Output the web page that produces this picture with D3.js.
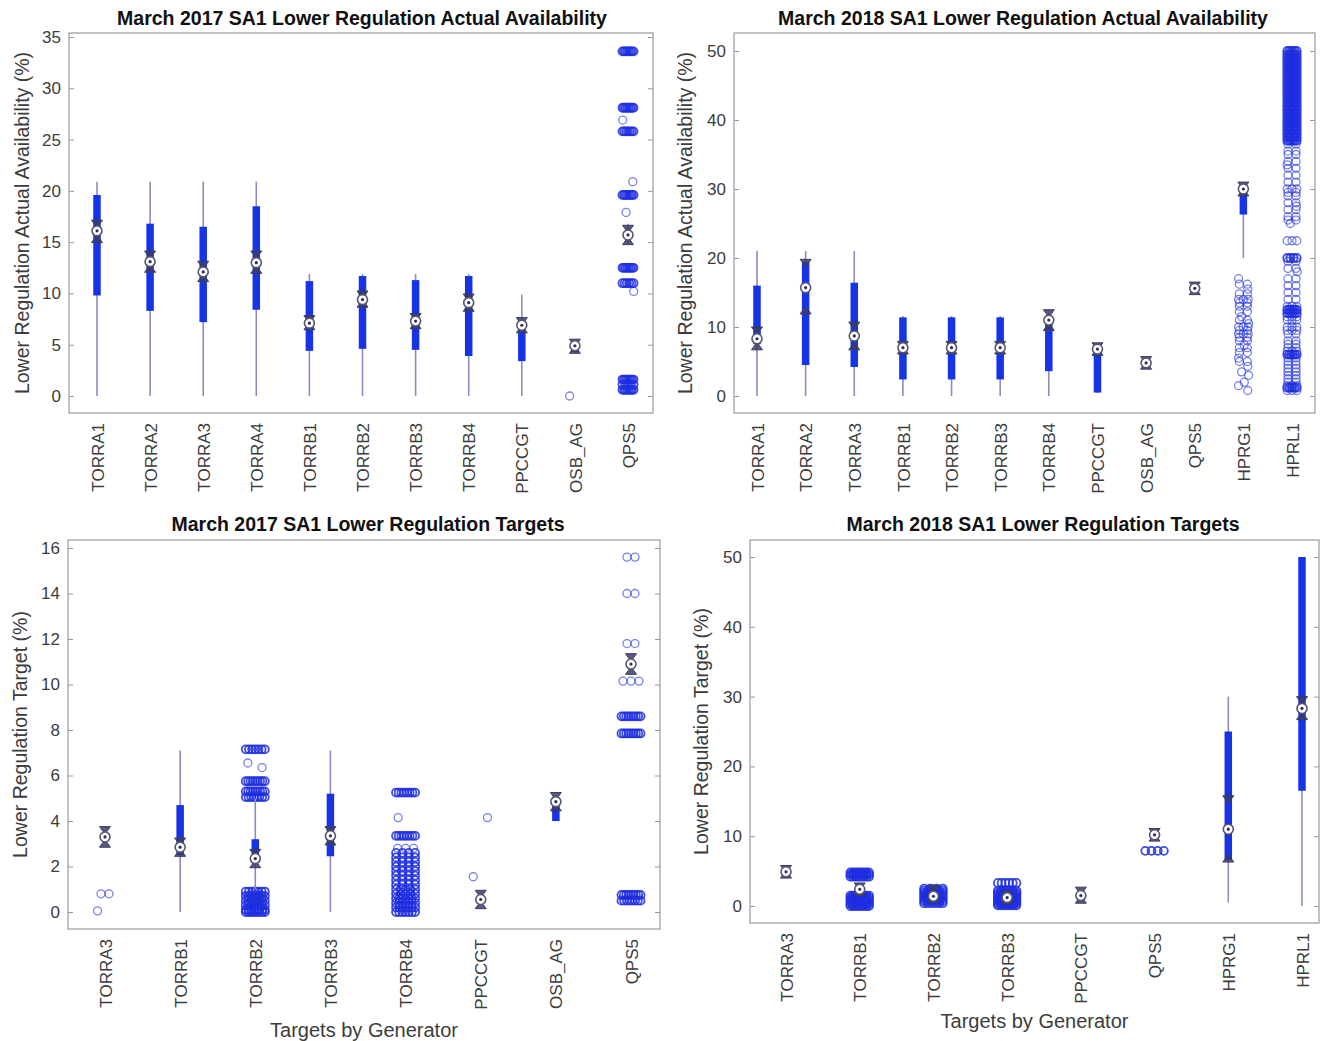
<!DOCTYPE html>
<html><head><meta charset="utf-8">
<script src="https://cdn.jsdelivr.net/npm/d3@7/dist/d3.min.js"></script>
<style>
body{margin:0;background:#fff;}
text{font-family:"Liberation Sans",Arial,Helvetica,sans-serif;}
</style></head>
<body><svg id="c" width="1325" height="1041"></svg>
<script>
// ---------------- DATA ----------------
const cats17Avail = ["TORRA1","TORRA2","TORRA3","TORRA4","TORRB1","TORRB2","TORRB3","TORRB4","PPCCGT","OSB_AG","QPS5"];
const cats18Avail = ["TORRA1","TORRA2","TORRA3","TORRB1","TORRB2","TORRB3","TORRB4","PPCCGT","OSB_AG","QPS5","HPRG1","HPRL1"];
const cats17Target = ["TORRA3","TORRB1","TORRB2","TORRB3","TORRB4","PPCCGT","OSB_AG","QPS5"];
const cats18Target = ["TORRA3","TORRB1","TORRB2","TORRB3","PPCCGT","QPS5","HPRG1","HPRL1"];

const ticks17Avail = [0,5,10,15,20,25,30,35];
const ticks18Avail = [0,10,20,30,40,50];
const ticks17Target = [0,2,4,6,8,10,12,14,16];
const ticks18Target = [0,10,20,30,40,50];

// box stats: [whiskerLo, q1, median, q3, whiskerHi, notchLo, notchHi]
const stats17Avail = [
  [0, 9.8, 16.1, 19.6, 20.9, 15.3, 16.8],
  [0, 8.3, 13.1, 16.8, 20.9, 12.4, 13.8],
  [0, 7.2, 12.1, 16.5, 20.9, 11.5, 12.8],
  [0, 8.4, 13.0, 18.5, 20.9, 12.3, 13.8],
  [0, 4.4, 7.1, 11.2, 11.9, 6.8, 7.5],
  [0, 4.6, 9.4, 11.7, 11.9, 9.0, 9.9],
  [0, 4.5, 7.3, 11.3, 11.9, 6.9, 7.7],
  [0, 3.9, 9.1, 11.7, 11.9, 8.6, 9.6],
  [0, 3.4, 6.9, 7.2, 9.9, 6.5, 7.3],
  [4.3, 4.3, 4.9, 5.0, 5.0, 4.5, 5.2],
  [14.8, 15.5, 15.7, 15.9, 16.8, 15.1, 16.3]
];
const stats18Avail = [
  [0, 7.5, 8.3, 16.0, 21.0, 7.2, 9.5],
  [0, 4.5, 15.7, 19.4, 21.0, 12.4, 19.3],
  [0, 4.2, 8.7, 16.4, 21.0, 7.2, 10.2],
  [0, 2.4, 7.0, 11.4, 11.6, 6.6, 7.4],
  [0, 2.4, 7.0, 11.4, 11.6, 6.6, 7.4],
  [0, 2.4, 7.0, 11.4, 11.6, 6.6, 7.4],
  [0, 3.6, 11.0, 11.2, 12.0, 10.0, 12.0],
  [0.4, 0.5, 6.8, 6.9, 7.0, 6.4, 7.2],
  [4.8, 4.8, 4.8, 4.8, 4.8, 4.4, 5.2],
  [15.6, 15.6, 15.6, 15.6, 15.6, 15.2, 16.0],
  [20.0, 26.3, 30.0, 30.2, 30.3, 29.5, 30.5],
  null
];
const stats17Target = [
  [3.3, 3.3, 3.3, 3.3, 3.3, 3.0, 3.6],
  [0, 2.5, 2.85, 4.7, 7.1, 2.6, 3.1],
  [1.0, 2.3, 2.35, 3.2, 5.0, 2.1, 2.6],
  [0, 2.45, 3.35, 5.2, 7.1, 3.1, 3.6],
  null,
  [0.55, 0.55, 0.55, 0.55, 0.55, 0.3, 0.8],
  [4.0, 4.0, 4.85, 5.0, 5.0, 4.6, 5.1],
  [10.9, 10.9, 10.9, 10.9, 10.9, 10.6, 11.2]
];
const stats18Target = [
  [4.9, 4.9, 4.9, 4.9, 4.9, 4.5, 5.3],
  [2.4, 2.4, 2.4, 2.4, 2.4, 2.0, 2.8],
  [1.4, 1.4, 1.4, 1.4, 1.4, 1.0, 2.5],
  [1.2, 1.2, 1.2, 1.2, 1.2, 0.8, 1.6],
  [1.5, 1.5, 1.5, 1.5, 1.5, 0.9, 2.2],
  [10.2, 10.2, 10.2, 10.2, 10.2, 9.8, 10.6],
  [0.5, 6.6, 11.0, 25.0, 30.0, 6.8, 15.3],
  [0, 16.5, 28.3, 50.0, 50.0, 27.2, 29.5]
];

// outliers per category: [value, count]
const out17Avail = [
  [],[],[],[],[],[],[],[],[],
  [[0,1]],
  [[33.6,8],[28.1,8],[26.9,1],[25.8,7],[20.9,1],[19.6,8],[17.9,1],[12.5,8],[11.0,6],[10.2,1],[1.6,8],[1.1,5],[0.6,8]]
];
const out18Avail = [
  [],[],[],[],[],[],[],[],[],[],
  [[17.0,1],[16.2,2],[15.5,1],[14.8,2],[14.0,3],[13.5,2],[13.0,2],[12.2,2],[11.5,1],[11.0,2],[10.5,1],[10.0,3],[9.5,2],[9.0,3],[8.5,2],[8.0,2],[7.4,1],[7.0,2],[6.3,2],[5.5,1],[5.0,2],[4.3,1],[3.5,1],[3.0,1],[2.0,1],[1.5,1],[0.8,1]],
  [[50,5],[49.5,6],[49,6],[48.5,6],[48,6],[47.5,6],[47,6],[46.5,6],[46,6],[45.5,6],[45,6],[44.5,6],[44,6],[43.5,6],[43,6],[42.5,6],[42,6],[41.5,6],[41,6],[40.5,6],[40,6],[39.5,6],[39,6],[38.5,6],[38,6],[37.5,6],[37,6],
   [36.5,2],[35.5,2],[35,2],[34,2],[33.5,1],[33,2],[32,2],[31,2],[30,3],[29.5,2],[29,2],[28,2],[27.5,1],[27,2],[26,2],[25.5,2],[25,1],[22.5,3],[20,4],[19.5,2],[18.5,2],[18,1],[17,2],[16,2],[15,2],[14,2],[13,3],[12.5,6],[12,5],[11.5,3],[11,3],[10,3],[9.5,3],[9,2],[8,2],[7.5,2],[7,2],[6.5,3],[6,6],[5.5,2],[5,2],[4.5,2],[4,2],[3.5,2],[3,2],[2.5,2],[2,2],[1.5,3],[1.2,5],[0.8,3]]
];
const out17Target = [
  [[0.8,2],[0.05,1]],
  [],
  [[7.15,7],[6.55,1],[6.35,1],[5.75,9],[5.3,9],[5.05,8],[0.9,7],[0.7,8],[0.5,8],[0.3,8],[0.1,8],[0,8]],
  [],
  [[5.25,8],[4.15,1],[3.35,8],[2.8,3],[2.6,4],[2.4,4],[2.2,4],[2.0,4],[1.8,4],[1.6,4],[1.4,4],[1.2,4],[1.0,5],[0.8,5],[0.6,7],[0.4,7],[0.2,7],[0,7]],
  [[1.55,1],[4.15,1]],
  [],
  [[15.6,2],[14.0,2],[11.8,2],[10.15,3],[8.6,9],[7.85,9],[0.75,9],[0.5,8]]
];
const out18Target = [
  [],
  [[4.8,8],[4.5,8],[4.2,8],[1.5,8],[1.2,8],[0.9,9],[0.6,9],[0.3,9],[0,9]],
  [[2.5,4],[2.2,6],[1.9,7],[1.6,7],[1.3,8],[1.0,8],[0.7,7],[0.4,6]],
  [[3.3,6],[2.2,6],[1.9,7],[1.6,8],[1.3,8],[1.0,8],[0.7,8],[0.4,8],[0.1,8]],
  [],
  [[7.9,4]],
  [],
  []
];

const titles = [
  "March 2017 SA1 Lower Regulation Actual Availability",
  "March 2018 SA1 Lower Regulation Actual Availability",
  "March 2017 SA1 Lower Regulation Targets",
  "March 2018 SA1 Lower Regulation Targets"
];
const yLabels = [
  "Lower Regulation Actual Availability (%)",
  "Lower Regulation Actual Availability (%)",
  "Lower Regulation Target (%)",
  "Lower Regulation Target (%)"
];
const xLabel = "Targets by Generator";

// ---------------- LAYOUT ----------------
const panels = [
  {cats:cats17Avail, stats:stats17Avail, outs:out17Avail, ticks:ticks17Avail, title:titles[0], ylab:yLabels[0], xlab:null,
   L:69, R:653, T:33, B:413, x1:97, xn:628, y0:396, yTop:35, yTopPx:37, titleX:362, titleY:25, ylabX:29, xlabY:null},
  {cats:cats18Avail, stats:stats18Avail, outs:out18Avail, ticks:ticks18Avail, title:titles[1], ylab:yLabels[1], xlab:null,
   L:734, R:1315, T:33, B:413, x1:757, xn:1292, y0:396, yTop:50, yTopPx:51, titleX:1023, titleY:25, ylabX:692, xlabY:null},
  {cats:cats17Target, stats:stats17Target, outs:out17Target, ticks:ticks17Target, title:titles[2], ylab:yLabels[2], xlab:xLabel,
   L:68, R:660, T:540, B:929, x1:105, xn:631, y0:912, yTop:16, yTopPx:548, titleX:368, titleY:531, ylabX:27, xlabY:1037},
  {cats:cats18Target, stats:stats18Target, outs:out18Target, ticks:ticks18Target, title:titles[3], ylab:yLabels[3], xlab:xLabel,
   L:750, R:1319, T:540, B:923, x1:786, xn:1302, y0:906, yTop:50, yTopPx:557, titleX:1043, titleY:531, ylabX:708, xlabY:1028}
];

const svg = d3.select("#c");
const C = {frame:"#9a9a9a", tick:"#3c3c3c", whisker:"#8a8cc4", box:"#1733e6", notch:"#3a3c66", outlier:"#1e2ee0"};

function drawPanel(p){
  const n = p.cats.length;
  const x = d3.scaleLinear().domain([1, n]).range([p.x1, p.xn]);
  const y = d3.scaleLinear().domain([0, p.yTop]).range([p.y0, p.yTopPx]);
  const spacing = (p.xn - p.x1) / (n - 1);
  const J = spacing * 0.18;
  const g = svg.append("g");

  g.append("rect").attr("x", p.L).attr("y", p.T).attr("width", p.R - p.L).attr("height", p.B - p.T)
    .attr("fill", "none").attr("stroke", C.frame).attr("stroke-width", 1.2);

  const ya = g.append("g").attr("transform", `translate(${p.L},0)`)
    .call(d3.axisLeft(y).tickValues(p.ticks).tickSize(-5).tickPadding(8).tickFormat(d3.format("d")));
  ya.select(".domain").remove();
  ya.selectAll("line").attr("stroke", C.frame);
  ya.selectAll("text").attr("fill", C.tick).style("font-size", "17px");
  const yr = g.append("g").attr("transform", `translate(${p.R},0)`)
    .call(d3.axisRight(y).tickValues(p.ticks).tickSize(-5).tickFormat(""));
  yr.select(".domain").remove();
  yr.selectAll("line").attr("stroke", C.frame);

  const xa = g.append("g").attr("transform", `translate(0,${p.B})`)
    .call(d3.axisBottom(x).tickValues(d3.range(1, n + 1)).tickSize(0).tickFormat(i => p.cats[i - 1]));
  xa.select(".domain").remove();
  xa.selectAll("text").attr("fill", C.tick).style("font-size", "17px")
    .attr("transform", "rotate(-90)").attr("text-anchor", "end")
    .attr("x", -10).attr("y", 0).attr("dy", "0.36em");

  g.append("text").attr("x", p.titleX).attr("y", p.titleY).attr("text-anchor", "middle")
    .style("font-size", "19.5px").style("font-weight", "bold").attr("fill", "#111").text(p.title);
  g.append("text").attr("transform", `translate(${p.ylabX},${(p.T + p.B) / 2}) rotate(-90)`)
    .attr("text-anchor", "middle").style("font-size", "19.5px").attr("fill", C.tick).text(p.ylab);
  if (p.xlab) g.append("text").attr("x", (p.L + p.R) / 2).attr("y", p.xlabY).attr("text-anchor", "middle")
    .style("font-size", "20px").attr("fill", C.tick).text(p.xlab);

  // outliers (deterministic jitter layout)
  const singlePattern = [-0.55, 0.5, -0.2, 0.6, 0.1];
  const r = 4;
  const pts = [];
  p.outs.forEach((list, ci) => {
    let s = 0;
    list.forEach(([v, c]) => {
      if (c === 1) { pts.push({cx: x(ci + 1) + singlePattern[s % 5] * J, v, c}); s++; }
      else {
        const step = Math.min(2 * (J - r) / (c - 1), 8);
        for (let k = 0; k < c; k++) pts.push({cx: x(ci + 1) + (k - (c - 1) / 2) * step, v, c});
      }
    });
  });
  g.append("g").selectAll("circle").data(pts).join("circle")
    .attr("cx", d => d.cx).attr("cy", d => y(d.v)).attr("r", r)
    .attr("fill", "none").attr("stroke", C.outlier)
    .attr("stroke-width", d => d.c > 3 ? 1.8 : 1.3)
    .attr("stroke-opacity", d => d.c > 3 ? 0.85 : 0.6);

  // boxes
  const bx = g.append("g");
  p.stats.forEach((s, ci) => {
    if (!s) return;
    const [lo, q1, med, q3, hi, nlo, nhi] = s;
    const cx = x(ci + 1);
    if (hi > lo) bx.append("line").attr("x1", cx).attr("x2", cx).attr("y1", y(lo)).attr("y2", y(hi))
      .attr("stroke", C.whisker).attr("stroke-width", 1.6);
    if (q3 > q1) bx.append("line").attr("x1", cx).attr("x2", cx).attr("y1", y(q1)).attr("y2", y(q3))
      .attr("stroke", C.box).attr("stroke-width", 7.5);
    const tu = y(nhi), tl = y(nlo);
    bx.append("path").attr("d", `M${cx-5.5},${tu-3.5}L${cx+5.5},${tu-3.5}L${cx},${tu+4}Z`)
      .attr("fill", C.notch).attr("fill-opacity", 0.85).attr("stroke", C.notch).attr("stroke-width", 1);
    bx.append("path").attr("d", `M${cx-5.5},${tl+3.5}L${cx+5.5},${tl+3.5}L${cx},${tl-4}Z`)
      .attr("fill", C.notch).attr("fill-opacity", 0.85).attr("stroke", C.notch).attr("stroke-width", 1);
    bx.append("circle").attr("cx", cx).attr("cy", y(med)).attr("r", 5)
      .attr("fill", "#fff").attr("stroke", "#55566e").attr("stroke-width", 1.6);
    bx.append("circle").attr("cx", cx).attr("cy", y(med)).attr("r", 1.6).attr("fill", "#2c2c6a");
  });
}
panels.forEach(drawPanel);
</script></body></html>
